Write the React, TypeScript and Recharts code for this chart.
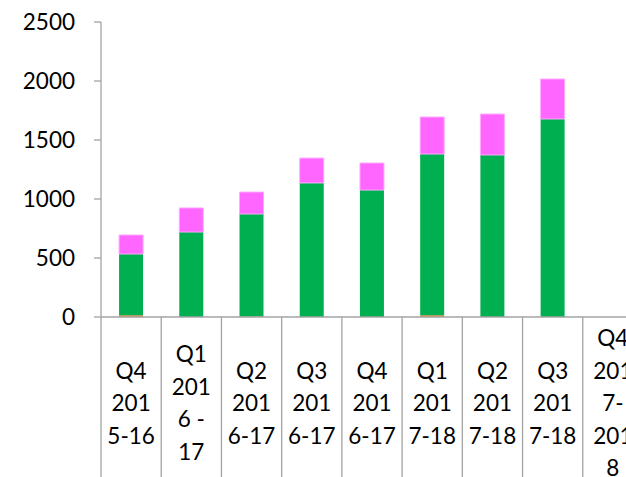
import { BarChart, Bar, XAxis, YAxis } from "recharts";

const categories = [
  "Q4 2015-16",
  "Q1 2016 - 17",
  "Q2 2016-17",
  "Q3 2016-17",
  "Q4 2016-17",
  "Q1 2017-18",
  "Q2 2017-18",
  "Q3 2017-18",
  "Q4 2017-2018",
];

// wrapped the same way the original label cells are
const tickLines = [
  ["Q4", "201", "5-16"],
  ["Q1", "201", "6 -", "17"],
  ["Q2", "201", "6-17"],
  ["Q3", "201", "6-17"],
  ["Q4", "201", "6-17"],
  ["Q1", "201", "7-18"],
  ["Q2", "201", "7-18"],
  ["Q3", "201", "7-18"],
  ["Q4", "201", "7-", "201", "8"],
];

const orange = [15, 0, 5, 0, 0, 15, 0, 0, 0];
const green = [519, 720, 868, 1136, 1076, 1366, 1373, 1678, 0];
const pink = [161, 204, 186, 211, 229, 314, 347, 339, 0];

const yTicks = [0, 500, 1000, 1500, 2000, 2500];

const data = categories.map((name, i) => ({
  name,
  a: orange[i],
  b: green[i],
  c: pink[i],
}));

const FONT = "Lato, 'Open Sans', sans-serif";
const AXIS = "#a3a3a3";

function CatTick(props: any) {
  const { x, y, payload, index } = props;
  const half = payload?.offset ?? 30;
  const lines = tickLines[index] ?? [payload.value];
  const lh = 32.5;
  const mid = y + 86;
  const first = mid - ((lines.length - 1) / 2) * lh;
  return (
    <g>
      <line x1={x - half} x2={x - half} y1={y} y2={y + 165} stroke={AXIS} strokeWidth={1.3} />
      <text x={x} textAnchor="middle" fontSize={22.5} fontFamily={FONT} fill="#000">
        {lines.map((l: string, i: number) => (
          <tspan key={i} x={x} y={first + i * lh + 8}>
            {l}
          </tspan>
        ))}
      </text>
    </g>
  );
}

export default function App() {
  return (
    <div style={{ position: "absolute", left: 0, top: 0, width: 626, height: 477, overflow: "hidden", background: "#fff" }}>
      <BarChart
        width={660}
        height={477}
        data={data}
        margin={{ top: 22, right: 17, left: 0, bottom: 0 }}
        barCategoryGap="30%"
      >
        <XAxis
          dataKey="name"
          interval={0}
          height={160}
          tickLine={false}
          tickSize={0}
          tickMargin={0}
          axisLine={{ stroke: AXIS, strokeWidth: 1.3 }}
          tick={<CatTick />}
        />
        <YAxis
          width={101}
          domain={[0, 2500]}
          ticks={yTicks}
          interval={0}
          tickSize={7}
          tickMargin={19}
          axisLine={{ stroke: AXIS, strokeWidth: 1.3 }}
          tickLine={{ stroke: AXIS, strokeWidth: 1.3 }}
          tick={{ fontSize: 22.5, fontFamily: FONT, fill: "#000" }}
        />
        <Bar dataKey="a" stackId="s" fill="#ED7D31" isAnimationActive={false} />
        <Bar dataKey="b" stackId="s" fill="#00B050" isAnimationActive={false} />
        <Bar dataKey="c" stackId="s" fill="#FF66FF" stroke="#FFAAFF" strokeWidth={1} isAnimationActive={false} />
      </BarChart>
    </div>
  );
}
